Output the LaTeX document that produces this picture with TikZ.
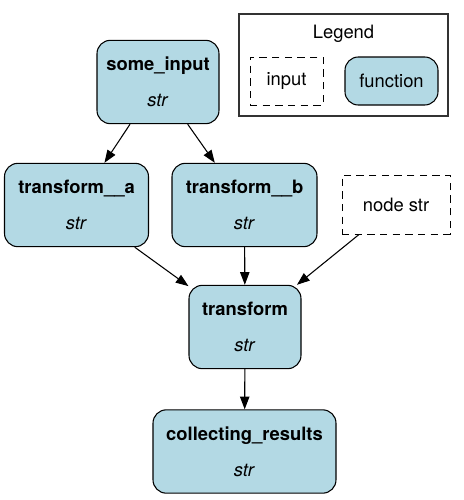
\documentclass[tikz,border=0pt]{standalone}
\usepackage{fontspec}
\setmainfont{TeX Gyre Heros}
\usepackage{xcolor}
\usepackage{tikz}
\usetikzlibrary{shapes}
\usetikzlibrary{positioning}
\usetikzlibrary{arrows.meta}
\definecolor{fnblue}{HTML}{B3D9E4}
\begin{document}
\begin{tikzpicture}[
	x=0.75pt, y=-0.75pt,
	font=\fontsize{13.8}{16}\selectfont,
	>={Triangle[length=9.5pt,width=7pt]}
]
\tikzset{
    fnbox/.style = {rectangle, rounded corners=10pt, draw=black, line width=0.8pt, align=center, fill=fnblue, minimum height=62.5pt, inner sep=0pt},
    inbox/.style = {rectangle, draw=black, dashed, dash pattern=on 5.5pt off 4pt, line width=0.7pt, align=center, inner sep=0pt},
    edge/.style = {->, line width=0.8pt}
}
\useasboundingbox (0,0) rectangle (464,500);
% legend
\node[draw=black!80, line width=0.8pt, minimum width=156.75pt, minimum height=76.5pt, inner sep=0pt] (legend) at (343.5,65) {};
\node (legendtitle) at (343.5,34) {Legend};
\node[inbox, minimum width=54.75pt, minimum height=36pt] (leginput) at (286.5,81) {input};
\node[fnbox, minimum width=69.75pt, minimum height=36pt] (legfunction) at (391.5,81) {function};
% nodes
\node[fnbox, minimum width=91.5pt] (someinput) at (158,82) {\textbf{some\_input}\\[11pt]\textit{str}};
\node[fnbox, minimum width=108pt] (transforma) at (76.5,205) {\textbf{transform\_\_a}\\[11pt]\textit{str}};
\node[fnbox, minimum width=108.75pt] (transformb) at (244.5,205) {\textbf{transform\_\_b}\\[11pt]\textit{str}};
\node[inbox, minimum width=81pt, minimum height=44.25pt] (nodestr) at (396,204.5) {node str};
\node[fnbox, minimum width=84pt] (transform) at (245,327) {\textbf{transform}\\[11pt]\textit{str}};
\node[fnbox, minimum width=137.25pt] (collecting) at (244.5,451.5) {\textbf{collecting\_results}\\[11pt]\textit{str}};
% edges
\draw[edge] (someinput) -- (transforma);
\draw[edge] (someinput) -- (transformb);
\draw[edge] (transforma) -- (transform);
\draw[edge] (transformb) -- (transform);
\draw[edge] (nodestr) -- (transform);
\draw[edge] (transform) -- (collecting);
\end{tikzpicture}
\end{document}
